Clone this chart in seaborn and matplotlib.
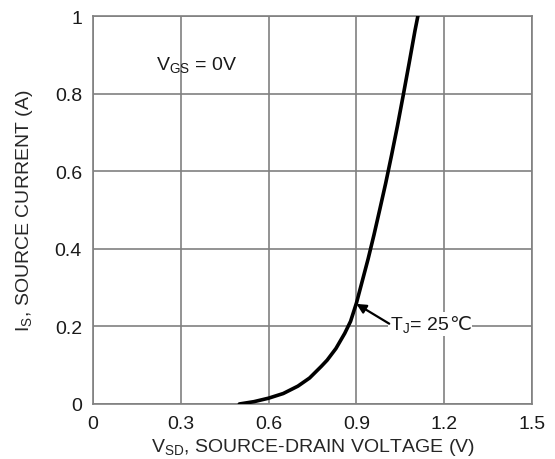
import matplotlib
matplotlib.use("Agg")
import matplotlib.pyplot as plt
import seaborn as sns
import pandas as pd

# Body-diode forward characteristic, Tj = 25 C
v_sd = [0.50, 0.55, 0.60, 0.65, 0.70, 0.74, 0.78, 0.80, 0.83, 0.86, 0.88,
        0.90, 0.92, 0.94, 0.96, 0.98, 1.00, 1.02, 1.04, 1.06, 1.08, 1.10, 1.11]
i_s = [0.0, 0.006, 0.015, 0.027, 0.046, 0.067, 0.097, 0.113, 0.143, 0.182,
       0.213, 0.260, 0.317, 0.374, 0.436, 0.502, 0.569, 0.641, 0.716, 0.796,
       0.878, 0.962, 1.0]

x_ticks = [0, 0.3, 0.6, 0.9, 1.2, 1.5]
x_tick_labels = ["0", "0.3", "0.6", "0.9", "1.2", "1.5"]
y_ticks = [0, 0.2, 0.4, 0.6, 0.8, 1.0]
y_tick_labels = ["0", "0.2", "0.4", "0.6", "0.8", "1"]

sns.set_style("white")
plt.rcParams["font.family"] = ["Liberation Sans", "DejaVu Sans"]
plt.rcParams["mathtext.fontset"] = "custom"
plt.rcParams["mathtext.rm"] = "Liberation Sans"
plt.rcParams["mathtext.it"] = "Liberation Sans:italic"
plt.rcParams["text.color"] = "#1a1a1a"

df = pd.DataFrame({"V": v_sd, "I": i_s})

fig = plt.figure(figsize=(5.55, 4.6), dpi=100)
ax = fig.add_axes([0.1676, 0.1196, 0.7910, 0.8434])

sns.lineplot(data=df, x="V", y="I", ax=ax, color="black", linewidth=2.6,
             zorder=3, clip_on=True)

ax.set_xlim(0, 1.5)
ax.set_ylim(0, 1.0)
ax.set_xticks(x_ticks)
ax.set_xticklabels(x_tick_labels)
ax.set_yticks(y_ticks)
ax.set_yticklabels(y_tick_labels)
ax.tick_params(length=0, labelsize=14, colors="#1a1a1a", pad=8)
ax.grid(True, color="#808080", linewidth=1.2)
for s in ax.spines.values():
    s.set_color("#808080")
    s.set_linewidth(1.2)

ax.set_xlabel(r"V$_{\mathregular{SD}}$, SOURCE-DRAIN VOLTAGE (V)", fontsize=14,
              labelpad=3)
ax.set_ylabel(r"I$_{\mathregular{S}}$, SOURCE CURRENT (A)", fontsize=14,
              labelpad=14)

ax.text(0.353, 0.876, r"V$_{\mathregular{GS}}$ = 0V", fontsize=14,
        ha="center", va="center")

# Junction temperature label with arrow onto the curve
tj = ax.text(1.015, 0.207, r"T$_{\mathregular{J}}$= 25", fontsize=14,
             va="center", ha="left", zorder=4,
             bbox=dict(boxstyle="square,pad=0.1", fc="white", ec="none"))
ax.annotate("℃", xy=(1.0, 0.5), xycoords=tj, xytext=(0, 0),
            textcoords="offset points", va="center", ha="left", fontsize=14,
            family=["DejaVu Sans", "Noto Sans CJK SC"], zorder=4,
            bbox=dict(boxstyle="square,pad=0.05", fc="white", ec="none"))
ax.annotate("", xy=(0.90, 0.258), xytext=(1.012, 0.207),
            arrowprops=dict(arrowstyle="-|>", color="black", lw=1.6,
                            mutation_scale=14, shrinkA=0, shrinkB=0),
            zorder=4)

fig.savefig("out.png", dpi=100)
